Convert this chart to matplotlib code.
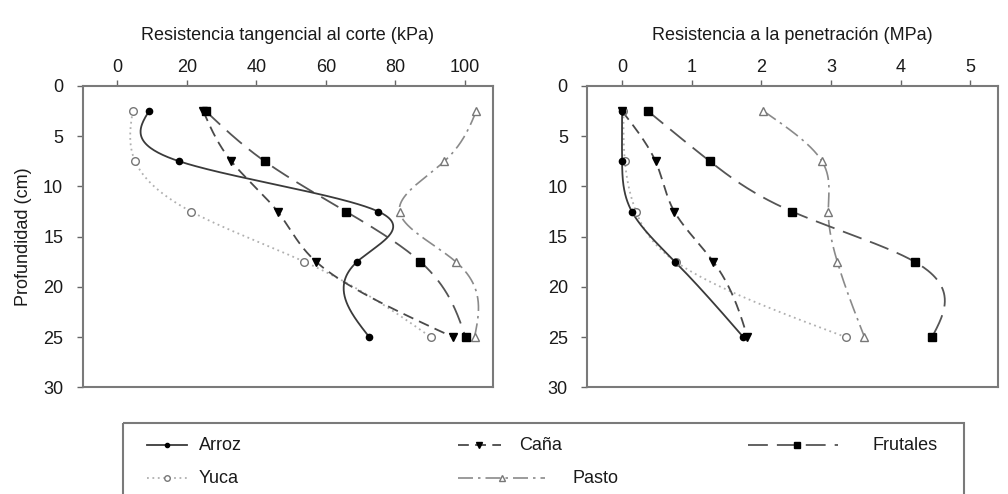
import numpy as np
import matplotlib
matplotlib.use("Agg")
import matplotlib.pyplot as plt
from matplotlib.lines import Line2D
from matplotlib.patches import Rectangle

plt.rcParams["font.family"] = ["Liberation Sans", "DejaVu Sans"]

# Profundidades de muestreo (cm)
profundidad = [2.5, 7.5, 12.5, 17.5, 25.0]

# Resistencia tangencial al corte (kPa)
corte_arroz = [9.1, 17.8, 75.1, 69.0, 72.5]
corte_yuca = [4.4, 5.1, 21.2, 53.8, 90.2]
corte_cana = [24.7, 32.8, 46.1, 57.2, 96.6]
corte_frutales = [25.4, 42.4, 65.8, 87.2, 100.2]
corte_pasto = [103.3, 94.1, 81.2, 97.4, 102.8]

# Resistencia a la penetración (MPa)
pen_arroz = [0.0, 0.0, 0.14, 0.76, 1.74]
pen_yuca = [0.02, 0.04, 0.20, 0.77, 3.21]
pen_cana = [0.0, 0.48, 0.75, 1.31, 1.80]
pen_frutales = [0.37, 1.26, 2.44, 4.20, 4.45]
pen_pasto = [2.03, 2.87, 2.96, 3.09, 3.48]

cultivos = ["Arroz", "Yuca", "Caña", "Pasto", "Frutales"]

TXT = "#1a1a1a"
ESTILOS = {
    "Arroz": dict(color="#3a3a3a", dashes=None, marker="o", ms=4.5,
                  mfc="black", mec="black", lw=1.3),
    "Yuca": dict(color="#b0b0b0", dashes=(1, 2), marker="o", ms=5.5,
                 mfc="white", mec="#777777", lw=1.3),
    "Caña": dict(color="#4a4a4a", dashes=(6, 3.5), marker="v", ms=6,
                 mfc="black", mec="black", lw=1.3),
    "Frutales": dict(color="#555555", dashes=(11, 5), marker="s", ms=5.5,
                     mfc="black", mec="black", lw=1.3),
    "Pasto": dict(color="#8a8a8a", dashes=(9, 3, 1.5, 3), marker="^", ms=6,
                  mfc="white", mec="#777777", lw=1.2),
}


def spline_natural(t, v, n=300):
    """Spline cúbico natural v(t), devuelve (t_fino, v_fino)."""
    t = np.asarray(t, float)
    v = np.asarray(v, float)
    k = len(t)
    h = np.diff(t)
    A = np.zeros((k, k))
    b = np.zeros(k)
    A[0, 0] = A[-1, -1] = 1.0
    for i in range(1, k - 1):
        A[i, i - 1] = h[i - 1]
        A[i, i] = 2 * (h[i - 1] + h[i])
        A[i, i + 1] = h[i]
        b[i] = 6 * ((v[i + 1] - v[i]) / h[i] - (v[i] - v[i - 1]) / h[i - 1])
    M = np.linalg.solve(A, b)
    tt = np.linspace(t[0], t[-1], n)
    idx = np.clip(np.searchsorted(t, tt) - 1, 0, k - 2)
    t0, t1 = t[idx], t[idx + 1]
    hh = t1 - t0
    a = (t1 - tt) / hh
    c = (tt - t0) / hh
    vv = (a * v[idx] + c * v[idx + 1]
          + ((a ** 3 - a) * M[idx] + (c ** 3 - c) * M[idx + 1]) * hh ** 2 / 6)
    return tt, vv


def dibujar_perfil(ax, series, xlim, xticks, titulo):
    for nombre, valores in series:
        est = ESTILOS[nombre]
        yy, xx = spline_natural(profundidad, valores)
        linea, = ax.plot(xx, yy, color=est["color"], lw=est["lw"], zorder=2)
        if est["dashes"] is not None:
            linea.set_dashes(est["dashes"])
        ax.plot(valores, profundidad, ls="none", marker=est["marker"], ms=est["ms"],
                mfc=est["mfc"], mec=est["mec"], mew=1.0, zorder=3)

    ax.set_xlim(*xlim)
    ax.set_ylim(30, 0)
    ax.set_xticks(xticks)
    ax.set_yticks([0, 5, 10, 15, 20, 25, 30])
    ax.xaxis.tick_top()
    ax.xaxis.set_label_position("top")
    ax.set_xlabel(titulo, fontsize=13, color=TXT, labelpad=14)
    ax.tick_params(axis="both", labelsize=13, labelcolor=TXT, color="#666666",
                   length=4, width=1, direction="out")
    ax.tick_params(axis="y", pad=10)
    ax.tick_params(axis="x", pad=3)
    for s in ax.spines.values():
        s.set_color("#7a7a7a")
        s.set_linewidth(1.5)


fig = plt.figure(figsize=(10.08, 4.94), dpi=100)
ax1 = fig.add_axes([0.082, 0.216, 0.4067, 0.610])
ax2 = fig.add_axes([0.5826, 0.216, 0.4077, 0.610])

dibujar_perfil(ax1, [("Yuca", corte_yuca), ("Pasto", corte_pasto), ("Frutales", corte_frutales),
                     ("Caña", corte_cana), ("Arroz", corte_arroz)],
               (-10, 108), [0, 20, 40, 60, 80, 100],
               "Resistencia tangencial al corte (kPa)")
dibujar_perfil(ax2, [("Yuca", pen_yuca), ("Pasto", pen_pasto), ("Frutales", pen_frutales),
                     ("Caña", pen_cana), ("Arroz", pen_arroz)],
               (-0.5, 5.4), [0, 1, 2, 3, 4, 5],
               "Resistencia a la penetración (MPa)")
ax1.set_ylabel("Profundidad (cm)", fontsize=13, color=TXT, labelpad=8)

# Leyenda dibujada en coordenadas de píxel de la figura
lg = fig.add_axes([0, 0, 1, 1], zorder=-1)
lg.set_xlim(0, 1008)
lg.set_ylim(494, 0)
lg.axis("off")
lg.add_patch(Rectangle((123, 423), 841, 90, fill=False, ec="#7a7a7a", lw=1.5))

entradas = {
    "Arroz": (147, 187, 167, 199, 445),
    "Yuca": (147, 187, 167, 199, 478),
    "Caña": (458, 501, 479, 519, 445),
    "Pasto": (458, 545, 502, 573, 478),
    "Frutales": (748, 838, 797, 872, 445),
}
for nombre in cultivos:
    x0, x1, xm, xt, yr = entradas[nombre]
    est = ESTILOS[nombre]
    h = Line2D([x0, x1], [yr, yr], color=est["color"], lw=est["lw"])
    if est["dashes"] is not None:
        h.set_dashes(est["dashes"])
    lg.add_line(h)
    lg.plot([xm], [yr], marker=est["marker"], ms=est["ms"] - 1.5,
            mfc=est["mfc"], mec=est["mec"], ls="none")
    lg.text(xt, yr, nombre, fontsize=13, color=TXT, va="center", ha="left")

fig.savefig("out.png", dpi=100)
